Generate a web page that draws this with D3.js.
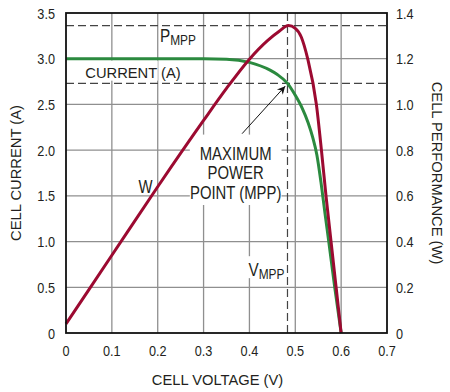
<!DOCTYPE html>
<html>
<head>
<meta charset="utf-8">
<script src="https://cdn.jsdelivr.net/npm/d3@7"></script>
<style>
  body { margin: 0; background: #fff; }
  text { font-family: "Liberation Sans", Arial, sans-serif; fill: #231f20; }
</style>
</head>
<body>
<svg id="chart" width="450" height="392"></svg>
<script>
// values
var voltTicks = [0, 0.1, 0.2, 0.3, 0.4, 0.5, 0.6, 0.7];
var currentTicks = [0, 0.5, 1.0, 1.5, 2.0, 2.5, 3.0, 3.5];
var powerTicks = [0, 0.2, 0.4, 0.6, 0.8, 1.0, 1.2, 1.4];

var currentV = [0, 0.3, 0.35, 0.4, 0.445, 0.46, 0.483, 0.5, 0.515, 0.528, 0.538, 0.547, 0.556, 0.565, 0.573, 0.586, 0.6];
var currentA = [3.0, 3.0, 2.995, 2.96, 2.875, 2.83, 2.73, 2.6, 2.46, 2.3, 2.14, 1.95, 1.65, 1.3, 1.0, 0.5, 0];

var powerV = [0, 0.1, 0.2, 0.3, 0.35, 0.4, 0.44, 0.465, 0.485, 0.5, 0.513, 0.527, 0.546, 0.557, 0.567, 0.578, 0.589, 0.6];
var powerW = [0.04, 0.34, 0.64, 0.93, 1.07, 1.198, 1.28, 1.32, 1.345, 1.333, 1.295, 1.2, 1.0, 0.8, 0.6, 0.4, 0.2, 0];

var mppV = 0.483, mppA = 2.73, mppW = 1.345;

var margin = {top: 13, right: 63, bottom: 59, left: 66};
var width = 450 - margin.left - margin.right,
    height = 392 - margin.top - margin.bottom;

var svg = d3.select("#chart");
var g = svg.append("g").attr("transform", "translate(" + margin.left + "," + margin.top + ")");

var x = d3.scaleLinear().domain([0, 0.7]).range([0, width]);
var yA = d3.scaleLinear().domain([0, 3.5]).range([height, 0]);
var yW = d3.scaleLinear().domain([0, 1.4]).range([height, 0]);

var fmt = function (d) { return d === 0 ? "0" : d3.format(".1f")(d); };

// narrow lettering like the original: squeeze text horizontally
function place(px, py, sx) { return "translate(" + px + "," + py + ") scale(" + sx + ",1)"; }

// grid
g.append("g").selectAll("line").data(voltTicks.slice(1, -1)).enter().append("line")
    .attr("x1", x).attr("x2", x).attr("y1", 0).attr("y2", height)
    .attr("stroke", "#8f8f8f").attr("stroke-width", 1.3);
g.append("g").selectAll("line").data(currentTicks.slice(1, -1)).enter().append("line")
    .attr("x1", 0).attr("x2", width).attr("y1", yA).attr("y2", yA)
    .attr("stroke", "#8f8f8f").attr("stroke-width", 1.3);

// dashed MPP guides
var dash = g.append("g").attr("stroke", "#444").attr("stroke-width", 1.2).attr("stroke-dasharray", "8,4");
dash.append("line").attr("x1", 0).attr("x2", width).attr("y1", yW(mppW)).attr("y2", yW(mppW));
dash.append("line").attr("x1", 0).attr("x2", width).attr("y1", yA(mppA)).attr("y2", yA(mppA));
dash.append("line").attr("x1", x(mppV)).attr("x2", x(mppV)).attr("y1", 0).attr("y2", height);

// label backgrounds
function boxed(bx, by, w, h) {
    g.append("rect").attr("x", bx).attr("y", by).attr("width", w).attr("height", h).attr("fill", "#fff");
}
boxed(x(0.27), yA(2.17), x(0.2), yA(1.4) - yA(2.17));
boxed(x(0.04), yA(2.98), x(0.16), yA(2.76) - yA(2.98));
boxed(x(0.395), yA(0.84), x(0.082), yA(0.6) - yA(0.84));

// curves
var line = d3.line().curve(d3.curveMonotoneX);
g.append("path")
    .attr("d", line(currentV.map(function (v, i) { return [x(v), yA(currentA[i])]; })))
    .attr("fill", "none").attr("stroke", "#2b8a3f").attr("stroke-width", 3);
g.append("path")
    .attr("d", line(powerV.map(function (v, i) { return [x(v), yW(powerW[i])]; })))
    .attr("fill", "none").attr("stroke", "#9c0a31").attr("stroke-width", 3);

// frame
g.append("rect").attr("width", width).attr("height", height)
    .attr("fill", "none").attr("stroke", "#111").attr("stroke-width", 1.8);

// tick labels
g.append("g").selectAll("text").data(currentTicks).enter().append("text")
    .attr("transform", function (d) { return place(-11, yA(d), 0.82); })
    .attr("dy", "0.36em").attr("text-anchor", "end")
    .style("font-size", "15.5px").text(fmt);
g.append("g").selectAll("text").data(powerTicks).enter().append("text")
    .attr("transform", function (d) { return place(width + 9, yW(d), 0.82); })
    .attr("dy", "0.36em").attr("text-anchor", "start")
    .style("font-size", "15.5px").text(fmt);
g.append("g").selectAll("text").data(voltTicks).enter().append("text")
    .attr("transform", function (d) { return place(x(d), height + 23, 0.82); })
    .attr("text-anchor", "middle")
    .style("font-size", "15.5px").text(fmt);

// axis titles
svg.append("text").attr("transform", "translate(21," + (margin.top + height / 2) + ") rotate(-90) scale(0.95,1)")
    .attr("text-anchor", "middle").style("font-size", "15.5px").text("CELL CURRENT (A)");
svg.append("text").attr("transform", "translate(432," + (margin.top + height / 2) + ") rotate(90) scale(0.95,1)")
    .attr("text-anchor", "middle").style("font-size", "15.5px").text("CELL PERFORMANCE (W)");
svg.append("text").attr("transform", place(margin.left + width / 2 - 9, 385, 0.95))
    .attr("text-anchor", "middle").style("font-size", "15.5px").text("CELL VOLTAGE (V)");

// annotations
var pm = g.append("text").attr("transform", place(x(0.205), yW(mppW) + 16, 0.85)).style("font-size", "18px");
pm.append("tspan").text("P");
pm.append("tspan").attr("dy", 3).style("font-size", "14px").text("MPP");

g.append("text").attr("transform", place(x(0.042), yA(2.85) + 5.5, 0.95))
    .style("font-size", "15.5px").text("CURRENT (A)");
g.append("text").attr("transform", place(x(0.158), yA(1.6) + 6, 0.85))
    .style("font-size", "17.5px").text("W");

var mx = g.append("text").attr("transform", place(x(0.37), yA(1.96) + 6, 0.85))
    .attr("text-anchor", "middle").style("font-size", "17.5px");
["MAXIMUM", "POWER", "POINT (MPP)"].forEach(function (s, i) {
    mx.append("tspan").attr("x", 0).attr("y", i * 19.5).text(s);
});

var vm = g.append("text").attr("transform", place(x(0.398), yA(0.69) + 6, 0.85)).style("font-size", "18px");
vm.append("tspan").text("V");
vm.append("tspan").attr("dy", 3).style("font-size", "14px").text("MPP");

// arrow to MPP
svg.append("defs").append("marker").attr("id", "head")
    .attr("viewBox", "0 0 10 10").attr("refX", 10).attr("refY", 5)
    .attr("markerWidth", 12).attr("markerHeight", 8).attr("markerUnits", "userSpaceOnUse")
    .attr("orient", "auto")
    .append("path").attr("d", "M0,0 L10,5 L0,10 L3,5 Z").attr("fill", "#111");
g.append("line")
    .attr("x1", x(0.384)).attr("y1", yA(2.18))
    .attr("x2", x(0.478)).attr("y2", yA(2.7))
    .attr("stroke", "#111").attr("stroke-width", 1).attr("marker-end", "url(#head)");
</script>
</body>
</html>
